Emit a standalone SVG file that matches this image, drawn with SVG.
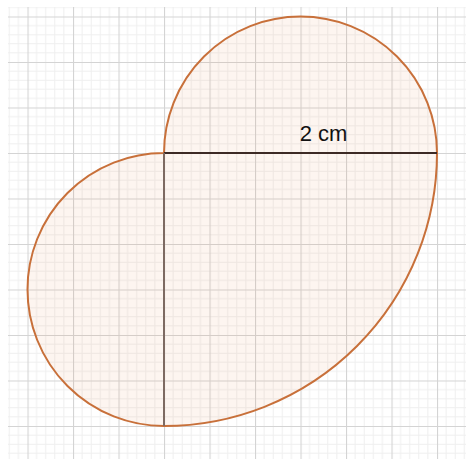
<svg xmlns="http://www.w3.org/2000/svg" width="466" height="459" viewBox="0 0 466 459">
  <defs>
    <pattern id="grid" patternUnits="userSpaceOnUse" x="164" y="153" width="45.5" height="45.5">
      <path d="M9.1,0V45.5M18.2,0V45.5M27.3,0V45.5M36.4,0V45.5M0,9.1H45.5M0,18.2H45.5M0,27.3H45.5M0,36.4H45.5" stroke="#efefef" stroke-width="1" fill="none"/>
      <path d="M0.5,0V45.5M0,0.5H45.5" stroke="#d4d4d4" stroke-width="1.2" fill="none"/>
    </pattern>
    <style>
      .shape { fill: #e8955a; fill-opacity: 0.09; stroke: #c8703a; stroke-width: 2; }
      .label { font-family: "Liberation Sans", Arial, sans-serif; font-size: 22px; fill: #111; }
    </style>
  </defs>
  <rect width="466" height="459" fill="#ffffff"/>
  <rect x="8" y="7" width="458" height="452" fill="url(#grid)"/>
  <g id="shape">
    <path class="shape" d="M164,153 A136.5,136.5 0 0 1 437,153 A273,273 0 0 1 164,426 A136.5,136.5 0 0 1 164,153 Z"/>
  </g>
  <g id="connectors">
    <line x1="164" y1="153" x2="437" y2="153" stroke="#3d2a25" stroke-width="2"/>
    <line x1="164" y1="153" x2="164" y2="426" stroke="#7d6a62" stroke-width="2"/>
  </g>
  <g id="label">
    <text class="label" x="323.5" y="141" text-anchor="middle">2 cm</text>
  </g>
</svg>
